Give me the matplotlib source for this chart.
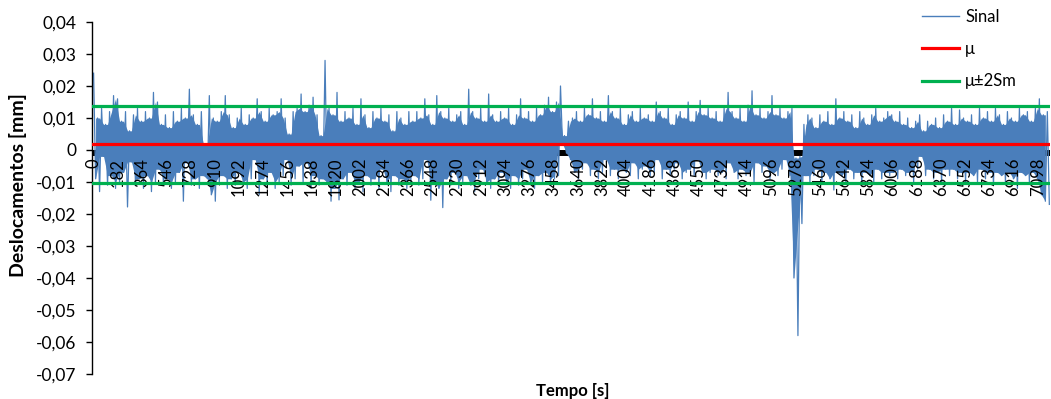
#!/usr/bin/env python3

import numpy as np
from matplotlib import pyplot as plt
from matplotlib import transforms
from matplotlib.ticker import FuncFormatter

# Signal peaks in micrometres, one value every 15 s
# (upper peak, then lower peak, alternating along the record)
sinal_sup = [
    24, 10, 13, 8, 12, 17, 16, 9, 12, 6, 11, 13, 9, 12, 10, 18, 15, 8, 11, 7,
    12, 9, 13, 10, 19, 11, 8, 12, 2, 17, 10, 9, 12, 17, 11, 7, 10, 13, 8, 11,
    10, 16, 12, 9, 13, 11, 12, 16, 10, 5, 12, 13, 17.5, 12, 14, 16.5, 11, 4.5, 28, 13,
    11, 18, 9, 12, 10, 13, 8, 16, 11, 7, 12, 10, 13, 9, 11, 6, 12, 10, 8, 12,
    9, 12, 10, 16, 11, 8, 17, 12, 10, 13, 9, 11, 12, 8, 19, 12, 10, 13, 9, 17.5,
    11, 9, 12, 10, 13, 8, 11, 16, 10, 12, 9, 13, 11, 14, 16.5, 12, 15, 20, 4.5, 9,
    10, 12, 9, 13, 11, 16, 10, 12, 9, 17, 12, 10, 13, 8, 11, 12, 9, 13, 10, 11,
    9, 15, 12, 10, 13, 8, 11, 12, 10, 15, 9, 12, 15.5, 11, 13, 10, 12, 9, 13, 18,
    12, 10, 13, 9, 14, 18.5, 11, 13, 10, 12, 17, 11, 13, 10, 12, 13, -2.5, -2, 8, 11,
    10, 7, 11, 9, 12, 8, 16, 10, 12, 9, 11, 7, 12, 10, 8, 11, 13, 9, 10, 12,
    11, 9, 12, 8, 10, 7, 9, 11, 6, 9, 8, 10, 7, 11, 9, 13, 8, 12.5, 10, 9,
    11, 8, 13, 10, 12, 9, 13, 11, 8, 12, 10, 9, 13, 11, 12, 9, 13, 16, 11, 12,
]
sinal_inf = [
    -9, -13, -2, -11, -8, -12, -10, -7, -17.8, -3.7, -11, -9, -12, -8, -13, -10, -6, -11, -9, -12,
    -10, -7, -16, -4, -11, -9, -12, -8, -9, -14, -16, -10, -8, -12, -9, -11, -7, -10, -12, -9,
    -3, -14, -9, -11, -7, -12, -10, -8, -3, -11, -9, -5, -10, -4, -12, -8, -11, -9, -10, -16,
    -12, -15.6, -9, -11, -7, -12, -10, -13, -8, -11, -9, -12, -6, -10, -13, -8, -11, -9, -12, -10,
    -8, -11, -9, -3, -15.7, -10, -12, -18, -9, -11, -7, -12, -10, -8, -11, -13, -9, -6, -10, -12,
    -9, -11, -7, -10, -12, -8, -11, -9, -6, -10, -12, -8, -10, -7, -11, -9, -8, 2, -1, -3,
    -7, -9, -6, -4, -8, -6, -9, -7, -3, -8, -6, -9, -6, -7, -8, -4, -9, -6, -5, -8,
    -7, -3, -9, -6, -8, -6, -4, -9, -7, -6, -8, -3, -7, -9, -7, -6, -8, -7, -9, -4,
    -7, -9, -6, -8, -7, -10, -4, -7, -5, -9, -7, -8, -6, -3, -8, -40, -58, -23, -8, -10,
    -8, -6, -10, -7, -9, -12.5, -7, -8, -10, -6, -9, -7, -11, -7, -8, -10, -6, -9, -7, -8,
    -7, -9, -6, -8, -7, -10, -6, -2, -8, -6, -9, -7, -10, -6, -8, -6, -9, -7, -10, -7,
    -8, -10, -6, -9, -7, -11, -7, -8, -10, -7, -9, -12, -7, -8, -10, -7, -9, -14, -16, -17,
]
passo = 15  # s between stored values

media = 0.0018
lim_sup = 0.0138
lim_inf = -0.0102

rotulos_x = [0, 182, 364, 546, 728, 910, 1092, 1274, 1456, 1638, 1820, 2002,
             2184, 2366, 2548, 2730, 2912, 3094, 3276, 3458, 3640, 3822, 4004,
             4186, 4368, 4550, 4732, 4914, 5096, 5278, 5460, 5642, 5824, 6006,
             6188, 6370, 6552, 6734, 6916, 7098]
ticks_y = [-0.07, -0.06, -0.05, -0.04, -0.03, -0.02, -0.01, 0,
           0.01, 0.02, 0.03, 0.04]

AZUL = '#4a7ebb'
VERMELHO = '#ff0000'
VERDE = '#00b050'


def fmt_virgula(v, pos):
    if abs(v) < 1e-9:
        return '0'
    return f'{v:.2f}'.replace('.', ',')


def main():
    plt.rcParams['font.family'] = ['Lato', 'DejaVu Sans']

    sup = np.array(sinal_sup) / 1000.0
    inf = np.array(sinal_inf) / 1000.0

    valores = np.empty(2 * len(sup))
    valores[0::2] = sup
    valores[1::2] = inf
    tempo = np.arange(len(valores)) * passo

    # dense body of the trace: what every pair of neighbouring peaks covers
    t_nucleo = tempo[1:-1:2]
    nucleo_sup = np.minimum(sup[:-1], sup[1:])
    nucleo_inf = np.maximum(inf[:-1], inf[1:])

    fig = plt.figure(figsize=(10.51, 3.99), dpi=100)
    ax = fig.add_axes([92 / 1051, 1 - 374 / 399, 958 / 1051, 352 / 399])

    # the category axis sits at zero; its packed tick marks form a black
    # strip just under the line, hidden by the signal except in its gaps
    faixa = ax.axhline(0, color='black', lw=4.3, zorder=1)
    faixa.set_transform(faixa.get_transform() + transforms.ScaledTranslation(
        0, -0.03, fig.dpi_scale_trans))

    ax.fill_between(t_nucleo, nucleo_inf, nucleo_sup, color=AZUL, lw=0,
                    zorder=2)
    l_sinal, = ax.plot(tempo, valores, color=AZUL, lw=0.9, zorder=2)
    l_media = ax.axhline(media, color=VERMELHO, lw=2.3, zorder=3)
    l_lim = ax.axhline(lim_sup, color=VERDE, lw=2.3, zorder=3)
    ax.axhline(lim_inf, color=VERDE, lw=2.3, zorder=3)

    ax.set_xlim(-12, 7190)
    ax.set_ylim(-0.07, 0.04)

    ax.set_axisbelow(False)
    ax.spines['top'].set_visible(False)
    ax.spines['right'].set_visible(False)
    ax.spines['bottom'].set_visible(False)
    ax.spines['left'].set_linewidth(1.0)

    ax.set_xticks(rotulos_x)
    ax.set_xticklabels([str(r) for r in rotulos_x], rotation=90, fontsize=12)
    ax.tick_params(axis='x', length=0, pad=0)
    # labels hang from the zero line rather than from the bottom of the axes
    desloc = transforms.ScaledTranslation(0, -0.08, fig.dpi_scale_trans)
    for rot in ax.get_xticklabels():
        rot.set_transform(ax.get_xaxis_transform() + desloc)
        rot.set_y(ax.transLimits.transform((0, 0))[1])

    ax.set_yticks(ticks_y)
    ax.yaxis.set_major_formatter(FuncFormatter(fmt_virgula))
    ax.tick_params(axis='y', direction='out', length=4.5, width=1.0,
                   labelsize=12.5, pad=6.5)

    fig.text(18 / 1051, 1 - 185 / 399, 'Deslocamentos [mm]', rotation=90,
             ha='center', va='center', fontweight='bold', fontsize=14)
    fig.text(573 / 1051, 1 - 391 / 399, 'Tempo [s]', ha='center',
             va='center', fontweight='bold', fontsize=12)

    leg = fig.legend([l_sinal, l_media, l_lim], ['Sinal', 'μ', 'μ±2Sm'],
                     loc='upper left', bbox_to_anchor=(922 / 1051, 1 - 9 / 399),
                     frameon=False, fontsize=12, handlelength=2.2,
                     handletextpad=0.4, labelspacing=0.97, borderpad=0,
                     borderaxespad=0)
    leg.get_lines()[0].set_linewidth(1.0)

    fig.savefig('out.png', dpi=100)


if __name__ == "__main__":
    main()
